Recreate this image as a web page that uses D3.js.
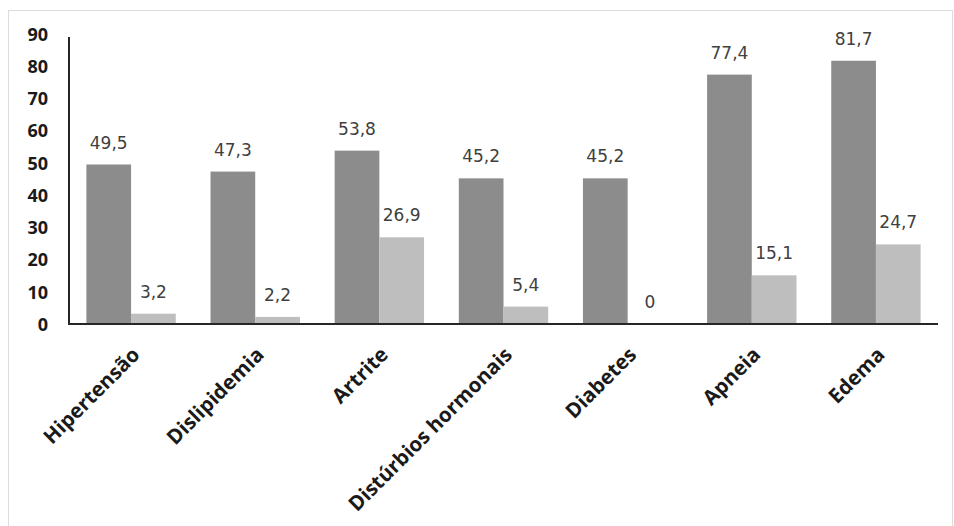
<!DOCTYPE html>
<html>
<head>
<meta charset="utf-8">
<script src="https://d3js.org/d3.v7.min.js"></script>
<style>
  body { margin: 0; background: #fff; }
  .valueLabel { font-family: "DejaVu Sans", Verdana, sans-serif; font-size: 17px; fill: #404040; }
  .yLabel { font-family: "Open Sans", sans-serif; font-size: 18px; font-weight: 700; fill: #1a1a1a; }
  .catLabel { font-family: "Open Sans", sans-serif; font-size: 20.5px; font-weight: 700; fill: #1a1a1a; }
</style>
</head>
<body>
<svg id="chart" width="954" height="526"></svg>
<script>
/// data
var categories = ["Hipertensão", "Dislipidemia", "Artrite", "Distúrbios hormonais",
                  "Diabetes", "Apneia", "Edema"];
var seriesDark = [49.5, 47.3, 53.8, 45.2, 45.2, 77.4, 81.7];
var seriesLight = [3.2, 2.2, 26.9, 5.4, 0, 15.1, 24.7];
var yTicks = [0, 10, 20, 30, 40, 50, 60, 70, 80, 90];

var svg = d3.select("#chart");

/// dimensions (plot box)
var plotLeft = 69, plotRight = 938, plotTop = 34, plotBottom = 324;

// light frame around chart
svg.append("rect")
   .attr("x", 8.5).attr("y", 10.5)
   .attr("width", 944).attr("height", 530)
   .attr("fill", "none")
   .attr("stroke", "#dcdcdc");

var x = d3.scaleBand()
          .domain(categories)
          .range([plotLeft, plotRight])
          .paddingInner(0.28)
          .paddingOuter(0.14);

var xSub = d3.scaleBand()
             .domain(["dark", "light"])
             .range([0, x.bandwidth()]);

var y = d3.scaleLinear()
          .domain([0, 90])
          .range([plotBottom, plotTop]);

var rows = categories.map((c, i) => ({cat: c, dark: seriesDark[i], light: seriesLight[i]}));

var groups = svg.selectAll(".grp")
                .data(rows)
                .enter()
                .append("g")
                .attr("class", "grp")
                .attr("transform", d => "translate(" + x(d.cat) + ",0)");

var keys = [{k: "dark", color: "#8c8c8c"}, {k: "light", color: "#bebebe"}];

keys.forEach(function(s) {
  groups.append("rect")
        .attr("x", xSub(s.k))
        .attr("width", xSub.bandwidth())
        .attr("y", d => y(d[s.k]))
        .attr("height", d => plotBottom - y(d[s.k]))
        .attr("fill", s.color);

  groups.append("text")
        .attr("class", "valueLabel")
        .attr("x", xSub(s.k) + xSub.bandwidth()/2)
        .attr("y", d => y(d[s.k]) - 16)
        .attr("text-anchor", "middle")
        .text(d => String(d[s.k]).replace(".", ","));
});

// y axis
var yAxis = d3.axisLeft(y)
              .tickValues(yTicks)
              .tickSize(0)
              .tickPadding(0);

var yG = svg.append("g")
            .attr("transform", "translate(" + plotLeft + ",0)")
            .call(yAxis);
yG.attr("font-size", null).attr("font-family", null);
yG.select(".domain").remove();
yG.selectAll("text")
  .attr("class", "yLabel")
  .attr("x", -21)
  .attr("dy", "0.35em");

svg.append("line")
   .attr("x1", plotLeft).attr("x2", plotLeft)
   .attr("y1", 37).attr("y2", plotBottom)
   .attr("stroke", "#262626")
   .attr("stroke-width", 2);

// x axis
var xAxis = d3.axisBottom(x).tickSize(0).tickPadding(0);
var xG = svg.append("g")
            .attr("transform", "translate(0," + plotBottom + ")")
            .call(xAxis);
xG.attr("font-size", null).attr("font-family", null);
xG.select(".domain").remove();
xG.selectAll("text")
  .attr("class", "catLabel")
  .attr("text-anchor", "end")
  .attr("y", 0)
  .attr("dy", 0)
  .attr("transform", "translate(10,32) rotate(-45)");

svg.append("line")
   .attr("x1", plotLeft - 1).attr("x2", plotRight)
   .attr("y1", plotBottom).attr("y2", plotBottom)
   .attr("stroke", "#262626")
   .attr("stroke-width", 2);
</script>
</body>
</html>
